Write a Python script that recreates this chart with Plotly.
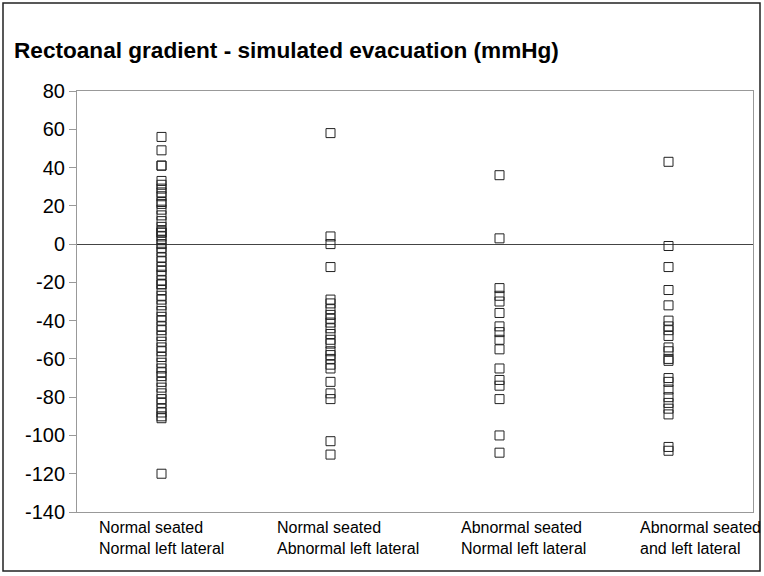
import plotly.graph_objects as go

categories = ["Normal seated<br>Normal left lateral",
              "Normal seated<br>Abnormal left lateral",
              "Abnormal seated<br>Normal left lateral",
              "Abnormal seated<br>and left lateral"]

g1 = [56, 49, 41, 41, 33, 31, 29, 27, 25, 22, 21, 18, 15, 12, 9, 7, 6, 6, 4, 2, 0,
      -2, -4, -7, -9, -12, -14, -16, -19, -21, -21, -24, -27, -29, -32, -35, -38, -40,
      -43, -45, -48, -51, -54, -56, -59, -62, -65, -67, -69, -72, -75, -78, -81, -83,
      -86, -88, -90, -91, -120]
g2 = [58, 4, 0, -12, -29, -31, -34, -37, -39, -41, -44, -47, -50, -52, -56, -58, -60,
      -63, -65, -72, -78, -81, -103, -110]
g3 = [36, 3, -23, -27, -30, -36, -43, -46, -50, -55, -65, -71, -74, -81, -100, -109]
g4 = [43, -1, -12, -24, -32, -40, -43, -45, -48, -54, -56, -60, -61, -70, -72, -76,
      -80, -83, -86, -89, -106, -108]

tick_vals = [80, 60, 40, 20, 0, -20, -40, -60, -80, -100, -120, -140]
tick_text = ["80", "60", "40", "20", "0", "-20", "-40", "-60", "-80", "-100", "-120", "-140"]

groups = [g1, g2, g3, g4]
label_x_px = [97, 275, 459, 638]

font = "Arial, Liberation Sans, Arimo, sans-serif"
fig = go.Figure()
for i, vals in enumerate(groups):
    fig.add_trace(go.Scatter(
        x=[i] * len(vals), y=vals, mode="markers",
        marker=dict(symbol="square-open", size=9, color="#222",
                    line=dict(width=1, color="#222")),
        showlegend=False, hoverinfo="y"))

L, R, T, B = 77, 11, 91, 64
W, H = 764, 576
pw, ph = W - L - R, H - T - B

annotations = [dict(text="<b>Rectoanal gradient - simulated evacuation (mmHg)</b>",
                    xref="paper", yref="paper",
                    x=(12 - L) / pw, y=(T - 51) / ph + 1, xanchor="left", yanchor="middle",
                    showarrow=False, font=dict(family=font, size=22.6, color="black"))]
for cat, px in zip(categories, label_x_px):
    annotations.append(dict(text=cat, xref="paper", yref="paper",
                            x=(px - L) / pw, y=(H - B - 517) / ph,
                            xanchor="left", yanchor="top", align="left",
                            showarrow=False,
                            font=dict(family=font, size=16, color="black")))

fig.update_layout(
    width=W, height=H,
    margin=dict(l=L, r=R, t=T, b=B),
    paper_bgcolor="white", plot_bgcolor="white",
    annotations=annotations,
    shapes=[dict(type="rect", xref="paper", yref="paper",
                 x0=(3 - L) / pw, x1=(760 - L) / pw,
                 y0=(H - B - 571) / ph, y1=(H - B - 3) / ph,
                 line=dict(color="#222", width=1.5), layer="below")],
    xaxis=dict(range=[-0.5, 3.5], showticklabels=False, ticks="",
               showgrid=False, zeroline=False, showline=True,
               linecolor="#999", mirror=True, linewidth=1),
    yaxis=dict(range=[-140, 80], tickmode="array", tickvals=tick_vals,
               ticktext=tick_text, ticks="outside", ticklen=7,
               tickcolor="#999", showgrid=False, zeroline=True,
               zerolinecolor="#444", zerolinewidth=1, showline=True,
               linecolor="#999", mirror=True, linewidth=1,
               tickfont=dict(family=font, size=20, color="black")),
    font=dict(family=font),
)

fig.write_html("out.html", config={"displayModeBar": False},
               post_script="document.body.style.margin='0';document.body.style.padding='0';")
